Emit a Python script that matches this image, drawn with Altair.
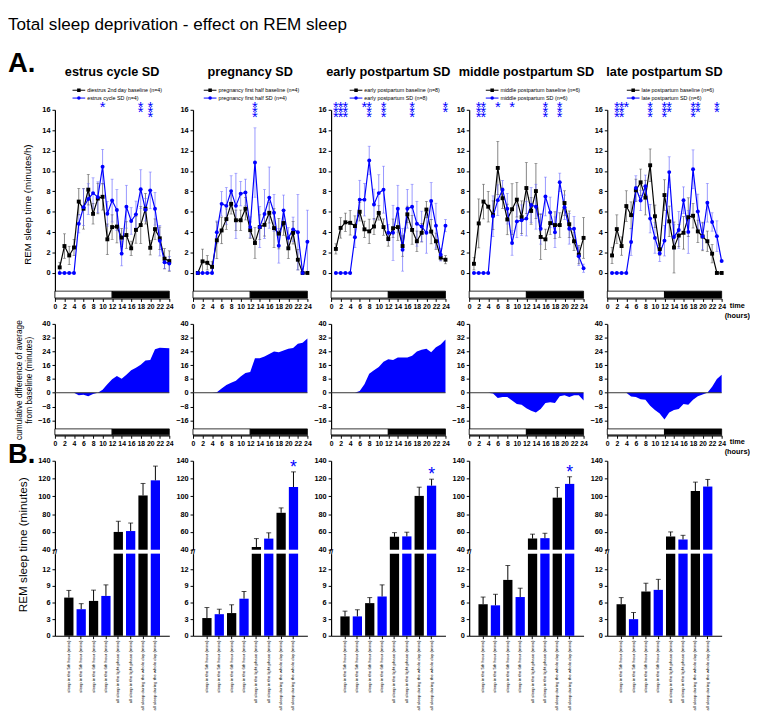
import json
import altair as alt
import pandas as pd

FONT = "Liberation Sans"
BLACK = "#000000"
BLUE = "#0000ff"
ERR_BLACK = "#4d4d4d"
ERR_BLUE = "#6a6aff"

W = 117
LH = 193
CH = 114
BH = 179

# ---------------- data ----------------
hours = list(range(1, 25))
cum_hours = list(range(0, 25))
phase_start = [0, 12]
phase_end = [12, 24]

panel_titles = ["estrus cycle SD", "pregnancy SD", "early postpartum SD",
                "middle postpartum SD", "late postpartum SD"]
baseline_names = ["diestrus 2nd day baseline (n=4)", "pregnancy first half baseline (n=4)",
                  "early postpartum baseline (n=8)", "middle postpartum baseline (n=6)",
                  "late postpartum baseline (n=6)"]
sd_names = ["estrus cycle SD (n=4)", "pregnancy first half SD (n=4)",
            "early postpartum SD (n=8)", "middle postpartum SD (n=6)",
            "late postpartum SD (n=6)"]

baseline_mean = [
    [0.55, 2.64, 1.72, 2.5, 7.0, 6.3, 8.17, 5.8, 7.3, 7.47, 3.3, 4.5, 4.55, 3.47, 3.72, 2.42, 4.22, 4.7, 6.3, 2.47, 4.3, 3.4, 1.4, 1.17],
    [0.0, 1.14, 1.0, 0.6, 3.2, 4.17, 5.28, 6.78, 5.17, 5.17, 6.3, 4.2, 2.94, 4.5, 4.72, 5.9, 4.4, 3.86, 4.9, 2.42, 3.94, 1.3, 0.0, 0.0],
    [2.36, 4.42, 4.97, 4.92, 4.6, 6.0, 4.28, 4.08, 4.56, 5.89, 4.5, 3.33, 4.39, 4.5, 2.64, 5.75, 4.22, 3.11, 3.94, 6.22, 4.06, 3.11, 1.5, 1.3],
    [0.9, 4.86, 7.0, 6.5, 5.67, 10.3, 7.33, 5.25, 6.25, 7.19, 5.47, 8.33, 6.08, 8.03, 3.53, 3.3, 4.89, 4.7, 4.7, 6.86, 4.78, 3.11, 1.8, 3.44],
    [1.72, 4.3, 2.64, 6.56, 5.67, 8.1, 8.89, 7.39, 10.56, 5.56, 2.33, 7.64, 5.06, 2.5, 3.67, 3.94, 5.47, 5.61, 4.08, 3.58, 3.11, 1.89, 0.0, 0.0],
]
baseline_sem = [
    [0.5, 1.2, 0.9, 0.8, 1.3, 2.0, 1.5, 1.0, 1.5, 1.3, 1.5, 1.2, 1.6, 0.9, 1.3, 0.7, 1.3, 1.8, 1.5, 0.7, 1.0, 1.1, 1.0, 1.0],
    [0.0, 1.2, 0.7, 0.5, 1.8, 1.3, 1.0, 1.0, 1.0, 1.0, 1.1, 0.8, 1.5, 1.2, 1.1, 1.0, 1.9, 1.5, 1.2, 1.0, 1.1, 1.0, 0.0, 0.0],
    [0.5, 1.0, 0.9, 1.2, 1.0, 0.9, 0.8, 1.2, 0.8, 0.7, 0.8, 0.7, 0.9, 1.3, 1.0, 0.8, 1.4, 1.0, 0.9, 0.8, 1.2, 0.8, 0.3, 0.4],
    [0.6, 2.4, 1.7, 1.5, 1.4, 2.6, 1.0, 1.5, 2.5, 1.7, 1.6, 2.5, 1.3, 2.7, 2.2, 1.0, 1.1, 1.3, 1.2, 1.2, 1.3, 0.9, 0.9, 2.0],
    [0.8, 1.4, 0.9, 1.5, 1.3, 1.1, 1.3, 1.7, 1.6, 1.1, 0.6, 1.5, 1.5, 2.5, 1.1, 1.6, 1.9, 1.2, 1.1, 1.4, 1.0, 0.9, 0.0, 0.0],
]
sd_mean = [
    [0, 0, 0, 0, 4.83, 6.44, 7.25, 7.83, 7.44, 10.42, 5.8, 7.1, 6.17, 1.9, 6.5, 5.1, 5.75, 8.22, 6.2, 8.1, 6.3, 3.17, 1.05, 0.92],
    [0, 0, 0, 0, 4.0, 6.78, 6.58, 8.03, 6.58, 7.78, 7.9, 4.5, 10.83, 4.5, 5.78, 7.39, 5.9, 2.67, 6.14, 3.44, 4.28, 4.0, 0.0, 3.06],
    [0, 0, 0, 0, 3.5, 7.19, 7.19, 11.03, 6.72, 7.83, 8.17, 3.94, 3.94, 6.3, 2.28, 6.3, 6.5, 4.83, 4.56, 3.94, 7.06, 4.64, 1.78, 4.64],
    [0, 0, 0, 0, 5.56, 7.14, 8.17, 6.3, 2.94, 5.06, 5.17, 5.33, 6.67, 6.5, 4.33, 7.5, 5.94, 4.0, 8.89, 6.44, 4.33, 4.33, 1.64, 0.47],
    [0, 0, 0, 0, 3.03, 8.33, 7.11, 8.5, 5.33, 3.44, 1.92, 3.17, 9.89, 3.53, 4.22, 7.14, 4.03, 10.17, 6.03, 3.58, 6.89, 5.0, 3.61, 1.17],
]
sd_sem = [
    [0, 0, 0, 0, 0.9, 1.8, 1.5, 1.5, 1.5, 1.7, 1.2, 2.1, 2.0, 1.2, 2.1, 1.3, 1.3, 1.9, 1.1, 1.8, 1.6, 1.5, 0.6, 0.7],
    [0, 0, 0, 0, 1.1, 1.2, 1.8, 1.5, 3.2, 1.2, 1.3, 1.0, 3.4, 2.0, 2.4, 3.0, 1.8, 1.7, 1.5, 1.0, 1.2, 3.7, 0.0, 3.1],
    [0, 0, 0, 0, 1.0, 1.9, 1.6, 1.4, 1.5, 1.8, 2.3, 0.8, 2.7, 2.3, 2.1, 1.9, 2.2, 2.2, 1.5, 2.0, 1.8, 2.2, 0.6, 0.6],
    [0, 0, 0, 0, 2.0, 1.5, 0.9, 1.5, 1.2, 1.6, 1.5, 1.7, 1.7, 2.2, 1.5, 1.9, 1.5, 1.5, 0.9, 1.2, 1.5, 1.2, 0.9, 0.4],
    [0, 0, 0, 0, 1.3, 1.2, 1.0, 1.1, 1.4, 1.5, 0.8, 1.5, 1.5, 1.2, 1.8, 1.3, 2.1, 1.9, 1.7, 1.3, 1.9, 0.9, 1.5, 0.0],
]
star_hours = [
    [10, 18, 20],
    [13],
    [1, 2, 3, 7, 8, 11, 17, 24],
    [2, 3, 6, 9, 16, 19],
    [2, 3, 4, 9, 12, 13, 18, 19, 23],
]
star_marks = [
    ["*", "**", "***"],
    ["***"],
    ["***", "***", "***", "*", "***", "***", "***", "**"],
    ["***", "***", "*", "*", "***", "***"],
    ["***", "***", "*", "***", "***", "**", "***", "**", "**"],
]
legend_x = [18, 11, 19, 17, 20]

cum_diff = [
    [0, 0, 0, 0, 0, -1.5, -1.2, -2.0, -0.8, 0, 1.8, 5, 7.8, 9.8, 8.2, 10.5, 13, 14.5, 16.2, 18.8, 19, 25.2, 26.2, 26, 25.8],
    [0, 0, 0, 0, 0, 0.3, 2.5, 4.5, 5.8, 7, 9.5, 11.5, 12, 20, 20, 21, 22.5, 24, 23.5, 24.5, 25.5, 26, 28.5, 29, 31.5],
    [0, 0, 0, 0, 0, 0, 1, 5, 11, 13, 15, 18, 19.5, 19, 20.5, 20.5, 20.5, 21.5, 24, 25, 25.5, 23.5, 26.5, 28, 31],
    [0, 0, 0, 0, 0, -0.5, -3, -2.5, -2.5, -4.5, -6.5, -7, -9, -10.5, -11.5, -9.5, -6, -5.5, -6, -2, -1.5, -2.5, -1.5, -1.5, -4.5],
    [0, 0, 0, 0, 0, -2.2, -2.5, -3.8, -4, -7.5, -10, -12, -15.5, -11.5, -10, -9.5, -6.5, -7, -4, -2, -1, 0, 3.5, 8, 10.5],
]

bar_labels = ["sleep in the 5th hour (mins)", "sleep in the 5th hour (mins)",
              "sleep in the 6th hour (mins)", "sleep in the 6th hour (mins)",
              "all sleep in the light phase (mins)", "all sleep in the light phase (mins)",
              "all sleep during the whole day (mins)", "all sleep during the whole day (mins)"]
bar_group = ["baseline", "SD"] * 4
bar_mean = [
    [6.9, 4.8, 6.3, 7.2, 60, 61, 101, 118],
    [3.2, 3.9, 4.1, 6.7, 43, 52.5, 81.5, 110.5],
    [3.5, 3.5, 5.9, 7.1, 54.5, 55, 100.5, 112],
    [5.7, 5.5, 10.1, 7.0, 52.5, 53, 98.5, 114],
    [5.7, 3.0, 8.0, 8.3, 55, 51.5, 106, 111],
]
bar_sem = [
    [1.3, 1.0, 1.95, 2.0, 12, 9, 13.5, 16],
    [1.9, 0.9, 1.5, 1.3, 9.5, 6.5, 5.5, 17],
    [0.95, 1.2, 1.0, 2.1, 4.7, 4.7, 9.8, 7.3],
    [1.3, 2.0, 2.6, 1.6, 5, 5.5, 11.5, 8],
    [1.2, 1.2, 1.5, 1.9, 5, 4.7, 10, 8],
]
bar_star = [False, True, True, True, False]


# ---------------- helpers ----------------
def text_layer(text, x, y, size, weight="normal", align="left", baseline="middle",
               color=BLACK, angle=0):
    return alt.Chart(pd.DataFrame({"t": [text]})).mark_text(
        font=FONT, fontSize=size, fontWeight=weight, align=align,
        baseline=baseline, color=color, angle=angle
    ).encode(text="t:N", x=alt.value(x), y=alt.value(y))


def legend_row(name, x0, y, sd):
    col = BLUE if sd else BLACK
    c = alt.Chart(pd.DataFrame({"t": [name]}))
    r = c.mark_rule(color=col, strokeWidth=1).encode(
        x=alt.value(x0), x2=alt.value(x0 + 13), y=alt.value(y))
    p = c.mark_point(filled=True, opacity=1, color=col, size=13,
                     shape="circle" if sd else "square").encode(
        x=alt.value(x0 + 6.5), y=alt.value(y))
    t = c.mark_text(font=FONT, fontSize=5.5, align="left", baseline="middle",
                    color=BLACK).encode(text="t:N", x=alt.value(x0 + 15), y=alt.value(y))
    return [r, p, t]


def time_label(x, y):
    return [text_layer("time", x, y, 7.5, "bold", "center"),
            text_layer("(hours)", x, y + 10, 7.5, "bold", "center")]


def hour_axis():
    return alt.Axis(values=list(range(0, 25, 2)), title=None, labelFontSize=7,
                    labelPadding=1, labelFlush=False, labelOverlap=False)


def phase_layer(x_scale, x_axis, y_top, y_bot):
    return alt.Chart(pd.DataFrame({"start": phase_start, "end": phase_end})).mark_rect(
        stroke=BLACK, strokeWidth=0.8
    ).encode(
        x=alt.X("start:Q", scale=x_scale, axis=x_axis), x2="end:Q",
        y=alt.value(y_top), y2=alt.value(y_bot),
        fill=alt.condition(alt.datum.start >= 12, alt.value(BLACK), alt.value("white")),
    )


def line_panel(i):
    n = len(hours)
    df = pd.DataFrame({
        "hour": hours + hours,
        "mean": baseline_mean[i] + sd_mean[i],
        "sem": baseline_sem[i] + sd_sem[i],
        "series": ["baseline"] * n + ["SD"] * n,
    })
    df["lo"] = df["mean"] - df["sem"]
    df["hi"] = df["mean"] + df["sem"]
    xs = alt.Scale(domain=[0, 24], nice=False)
    ys = alt.Scale(domain=[-2.5, 16], nice=False)
    xa = hour_axis()
    if i == 0:
        ya = alt.Axis(values=list(range(0, 17, 2)), labelFontSize=7.5, labelOverlap=False,
                      title="REM sleep time (minutes/h)", titleFontSize=10, titlePadding=10)
    else:
        ya = alt.Axis(values=list(range(0, 17, 2)), labelFontSize=7.5, labelOverlap=False,
                      title=None)

    def X(f):
        return alt.X(f, scale=xs, axis=xa)

    def Y(f):
        return alt.Y(f, scale=ys, axis=ya)

    is_sd = alt.datum.series == "SD"
    base = alt.Chart(df)
    err_col = alt.condition(is_sd, alt.value(ERR_BLUE), alt.value(ERR_BLACK))
    main_col = alt.condition(is_sd, alt.value(BLUE), alt.value(BLACK))
    err = base.mark_rule(strokeWidth=0.7).encode(
        x=X("hour:Q"), y=Y("lo:Q"), y2="hi:Q", color=err_col)
    cap_lo = base.mark_tick(orient="horizontal", size=3, thickness=0.7).encode(
        x=X("hour:Q"), y=Y("lo:Q"), color=err_col)
    cap_hi = base.mark_tick(orient="horizontal", size=3, thickness=0.7).encode(
        x=X("hour:Q"), y=Y("hi:Q"), color=err_col)
    line = base.mark_line(strokeWidth=1.2).encode(
        x=X("hour:Q"), y=Y("mean:Q"), detail="series:N", color=main_col)
    pts = base.mark_point(filled=True, size=16, opacity=1).encode(
        x=X("hour:Q"), y=Y("mean:Q"), color=main_col,
        shape=alt.condition(is_sd, alt.value("circle"), alt.value("square")))
    stars = alt.Chart(pd.DataFrame({
        "hour": star_hours[i],
        "s": ["\n".join(list(m)) for m in star_marks[i]],
    })).mark_text(color=BLUE, font=FONT, fontSize=15, lineHeight=5, baseline="bottom",
                  lineBreak="\n").encode(x=X("hour:Q"), y=alt.value(5), text="s:N")
    layers = [err, cap_lo, cap_hi, line, pts, phase_layer(xs, xa, LH - 7.5, LH - 0.5), stars]
    layers.append(text_layer(panel_titles[i], W / 2, -39, 13, "bold", "center"))
    layers += legend_row(baseline_names[i], legend_x[i], -20, False)
    layers += legend_row(sd_names[i], legend_x[i], -12, True)
    if i == 0:
        layers.append(text_layer("Total sleep deprivation - effect on REM sleep", -48, -87, 17.5))
        layers.append(text_layer("A.", -48, -47, 28, "bold"))
    if i == 4:
        layers += time_label(W + 16, LH + 8)
    return alt.layer(*layers).properties(width=W, height=LH)


def cum_panel(i):
    df = pd.DataFrame({"hour": cum_hours, "diff": cum_diff[i]})
    df["base"] = 0
    xs = alt.Scale(domain=[0, 24], nice=False)
    ys = alt.Scale(domain=[-24.75, 40], nice=False)
    xa = hour_axis()
    vals = [-16, -8, 0, 8, 16, 24, 32, 40]
    if i == 0:
        ya = alt.Axis(values=vals, labelFontSize=7.5, labelOverlap=False,
                      title=["cumulative difference of average", "from baseline (minutes)"],
                      titleFontSize=8.5, titleLineHeight=10, titlePadding=4)
    else:
        ya = alt.Axis(values=vals, labelFontSize=7.5, labelOverlap=False, title=None)
    area = alt.Chart(df).mark_area(color=BLUE, opacity=1, interpolate="linear").encode(
        x=alt.X("hour:Q", scale=xs, axis=xa), y=alt.Y("diff:Q", scale=ys, axis=ya),
        y2="base:Q")
    zero = alt.Chart(pd.DataFrame({"z": [0]})).mark_rule(color="#333333", strokeWidth=1).encode(
        y=alt.Y("z:Q", scale=ys, axis=ya))
    layers = [area, zero, phase_layer(xs, xa, CH - 6.6, CH - 0.5)]
    if i == 4:
        layers += time_label(W + 16, CH + 7)
    return alt.layer(*layers).properties(width=W, height=CH)


def bar_panel(i):
    df = pd.DataFrame({"idx": list(range(8)), "grp": bar_group,
                       "mean": bar_mean[i], "sem": bar_sem[i]})
    df["hi"] = df["mean"] + df["sem"]
    df["floor"] = 40
    is_sd = alt.datum.grp == "SD"
    bar_color = alt.condition(is_sd, alt.value(BLUE), alt.value(BLACK))
    xs = alt.Scale(domain=list(range(8)), paddingInner=0.25, paddingOuter=0.75)
    label_expr = json.dumps(bar_labels) + "[datum.value]"
    xa = alt.Axis(labelExpr=label_expr, labelAngle=270, labelFontSize=4.4,
                  labelFontWeight="normal", title=None, tickSize=3, labelPadding=1.5,
                  labelOverlap=False)
    ys_u = alt.Scale(domain=[40, 140], range=[91, 0], nice=False, zero=False)
    ys_l = alt.Scale(domain=[0, 14.85], range=[BH, 95], nice=False, clamp=True)
    ax_u = alt.Axis(values=[40, 60, 80, 100, 120, 140], orient="left", title=None,
                    labelFontSize=7.5, labelOverlap=False)
    ax_l = alt.Axis(values=[0, 3, 6, 9, 12], orient="left", title=None,
                    labelFontSize=7.5, labelOverlap=False)

    def X():
        return alt.X("idx:O", scale=xs, axis=xa)

    base = alt.Chart(df)
    up = base.transform_filter(alt.datum.mean >= 40)
    bars_u = up.mark_bar().encode(x=X(), y=alt.Y("mean:Q", scale=ys_u, axis=ax_u),
                                  y2="floor:Q", color=bar_color)
    err_u = up.mark_rule(color=BLACK, strokeWidth=1).encode(
        x=X(), y=alt.Y("mean:Q", scale=ys_u, axis=ax_u), y2="hi:Q")
    cap_u = up.mark_tick(color=BLACK, orient="horizontal", size=5, thickness=1).encode(
        x=X(), y=alt.Y("hi:Q", scale=ys_u, axis=ax_u))
    upper_layers = [bars_u, err_u, cap_u]
    if bar_star[i]:
        star = base.transform_filter(alt.datum.idx == 7).mark_text(
            text="*", color=BLUE, font=FONT, fontSize=18, baseline="middle", dy=-4
        ).encode(x=X(), y=alt.Y("hi:Q", scale=ys_u, axis=ax_u))
        upper_layers.append(star)
    upper = alt.layer(*upper_layers)

    bars_l = base.mark_bar().encode(x=X(), y=alt.Y("mean:Q", scale=ys_l, axis=ax_l),
                                    color=bar_color)
    low = base.transform_filter(alt.datum.hi <= 14.85)
    err_l = low.mark_rule(color=BLACK, strokeWidth=1).encode(
        x=X(), y=alt.Y("mean:Q", scale=ys_l, axis=ax_l), y2="hi:Q")
    cap_l = low.mark_tick(color=BLACK, orient="horizontal", size=5, thickness=1).encode(
        x=X(), y=alt.Y("hi:Q", scale=ys_l, axis=ax_l))
    lower = alt.layer(bars_l, err_l, cap_l)

    extras = [text_layer("//", 0, 93, 8, "bold", "center")]
    if i == 0:
        extras.append(text_layer("B.", -48, -6, 28, "bold"))
        extras.append(text_layer("REM sleep time (minutes)", -33, 86, 12, "normal",
                                 "center", angle=270))
    return alt.layer(upper, lower, *extras).resolve_scale(y="independent").properties(
        width=W, height=BH)


cells = ([line_panel(i) for i in range(5)] + [cum_panel(i) for i in range(5)]
         + [bar_panel(i) for i in range(5)])

chart = alt.concat(
    *cells, columns=5, spacing={"row": 26, "column": 24.25}, bounds="flush"
).resolve_scale(
    x="independent", y="independent"
).properties(
    padding=0, background="white"
).configure_axis(
    labelFont=FONT, titleFont=FONT, labelFontWeight="bold", labelColor=BLACK,
    titleColor=BLACK, titleFontWeight="normal", domainColor=BLACK, tickColor=BLACK,
    domainWidth=1.2, tickWidth=1, tickSize=3, grid=False, labelOverlap=False
).configure_view(stroke=None)

chart.save("out.html", embed_options={"renderer": "svg", "actions": False})
